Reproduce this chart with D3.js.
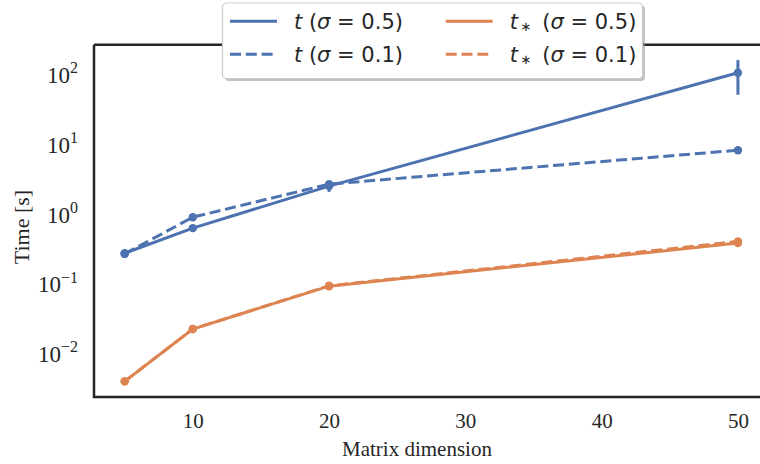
<!DOCTYPE html>
<html>
<head>
<meta charset="utf-8">
<script src="https://cdn.jsdelivr.net/npm/d3@7"></script>
<style>
  body { margin: 0; background: #fff; }
  svg { display: block; }
</style>
</head>
<body>
<svg id="chart" width="760" height="464"></svg>
<script>
// matrix sizes on the x axis
const dims = [5, 10, 20, 50];

// mean times (seconds) and their std
const tHigh = [0.24, 0.55, 2.2, 93];
const tHighErr = [0.01, 0.03, 0.38, 48];
const tLow = [0.235, 0.79, 2.35, 7.2];
const tLowErr = [0, 0, 0, 0];
const tsHigh = [0.0035, 0.0197, 0.081, 0.336];
const tsHighErr = [0, 0, 0, 0];
const tsLow = [0.0035, 0.0197, 0.082, 0.355];
const tsLowErr = [0, 0, 0, 0];

const xTicks = [10, 20, 30, 40, 50];
const yTickExp = [-2, -1, 0, 1, 2];

const blue = '#4c72b0', orange = '#dd8452';

const series = [
  { name: 't', sigma: '0.5', star: false, vals: tHigh, err: tHighErr, color: blue, dash: null },
  { name: 't', sigma: '0.1', star: false, vals: tLow, err: tLowErr, color: blue, dash: '11,4.8' },
  { name: 't', sigma: '0.5', star: true, vals: tsHigh, err: tsHighErr, color: orange, dash: null },
  { name: 't', sigma: '0.1', star: true, vals: tsLow, err: tsLowErr, color: orange, dash: '11,4.8' }
];

const svg = d3.select('#chart');
const mLeft = 94, mRight = 768.6, mTop = 44.7, mBottom = 397;
const serif = '"Liberation Serif", "Times New Roman", serif';

const x = d3.scaleLinear().domain([2.75, 52.25]).range([mLeft, mRight]);
const y = d3.scaleLog().domain([Math.pow(10, -2.68), Math.pow(10, 2.37)]).range([mBottom, mTop]);

// axes (no tick marks, seaborn white style)
const xAxis = svg.append('g')
  .attr('transform', `translate(0,${mBottom})`)
  .call(d3.axisBottom(x).tickValues(xTicks).tickSize(0).tickPadding(16).tickFormat(d3.format('d')));
xAxis.select('.domain').remove();
xAxis.selectAll('text')
  .style('font-family', serif)
  .style('font-size', '21px')
  .attr('fill', '#262626');

const yAxis = svg.append('g')
  .attr('transform', `translate(${mLeft},0)`)
  .call(d3.axisLeft(y).tickValues(yTickExp.map(e => Math.pow(10, e))).tickSize(0).tickPadding(16));
yAxis.select('.domain').remove();
yAxis.selectAll('text')
  .style('font-family', serif)
  .style('font-size', '23px')
  .attr('fill', '#262626')
  .attr('dy', '0.52em')
  .text(null)
  .each(function(d) {
    const e = Math.round(Math.log10(d));
    const t = d3.select(this);
    t.append('tspan').text('10');
    t.append('tspan').attr('dy', '-0.6em').style('font-size', '16px')
      .text(e < 0 ? '\u2212' + (-e) : String(e));
  });

// axis labels
svg.append('text')
  .attr('x', (mLeft + 760) / 2 - 10)
  .attr('y', 456)
  .attr('text-anchor', 'middle')
  .style('font-family', serif)
  .style('font-size', '21px')
  .attr('fill', '#262626')
  .text('Matrix dimension');

svg.append('text')
  .attr('transform', `translate(29,227) rotate(-90)`)
  .attr('text-anchor', 'middle')
  .style('font-family', serif)
  .style('font-size', '22px')
  .attr('fill', '#262626')
  .text('Time [s]');

// lines, error bars, markers
const line = d3.line().x((d, i) => x(dims[i])).y(d => y(d));
const plot = svg.append('g');

series.forEach(s => {
  plot.append('path')
    .datum(s.vals)
    .attr('d', line)
    .attr('fill', 'none')
    .attr('stroke', s.color)
    .attr('stroke-width', 3)
    .attr('stroke-dasharray', s.dash);

  plot.selectAll(null)
    .data(s.vals.map((v, i) => ({ v, e: s.err[i], d: dims[i] })).filter(p => p.e > 0))
    .enter().append('line')
    .attr('x1', p => x(p.d)).attr('x2', p => x(p.d))
    .attr('y1', p => y(p.v - p.e)).attr('y2', p => y(p.v + p.e))
    .attr('stroke', s.color)
    .attr('stroke-width', 3);

  plot.selectAll(null)
    .data(s.vals)
    .enter().append('circle')
    .attr('cx', (d, i) => x(dims[i]))
    .attr('cy', d => y(d))
    .attr('r', 4.2)
    .attr('fill', s.color);
});

// spines: left, bottom, top (right one falls outside the picture)
const spine = svg.append('g').attr('stroke', '#262626').attr('stroke-width', 2.5).attr('fill', 'none');
spine.append('path').attr('d', `M${mLeft},${mTop}H${mRight}M${mLeft},${mTop}V${mBottom}H${mRight}`);

// legend
const lg = svg.append('g');
lg.append('rect')
  .attr('x', 225).attr('y', 5.5).attr('width', 420).attr('height', 75.5)
  .attr('rx', 4).attr('fill', '#999').attr('opacity', 0.6);
lg.append('rect')
  .attr('x', 222.5).attr('y', 3).attr('width', 420).attr('height', 75.5)
  .attr('rx', 4).attr('fill', '#fff').attr('stroke', '#cccccc').attr('stroke-width', 1.2);

const colX = [230, 445.7], rowY = [21.3, 54.3];
series.forEach(s => {
  const cx = colX[s.star ? 1 : 0];
  const cy = rowY[s.sigma === '0.5' ? 0 : 1];
  lg.append('line')
    .attr('x1', cx).attr('x2', cx + 47)
    .attr('y1', cy).attr('y2', cy)
    .attr('stroke', s.color).attr('stroke-width', 3)
    .attr('stroke-dasharray', s.dash);
  const t = lg.append('text')
    .attr('x', cx + 64).attr('y', cy + 7.5)
    .style('font-family', '"DejaVu Sans", sans-serif')
    .style('font-size', '21px')
    .attr('fill', '#262626');
  t.append('tspan').style('font-style', 'italic').text('t');
  if (s.star) {
    t.append('tspan').attr('dy', 2).style('font-size', '13px').text('\u2009\u2217');
    t.append('tspan').attr('dy', -2).text('\u2009');
  }
  t.append('tspan').text(' (');
  t.append('tspan').style('font-style', 'italic').text('\u03c3');
  t.append('tspan').text(' = ' + s.sigma + ')');
});
</script>
</body>
</html>
